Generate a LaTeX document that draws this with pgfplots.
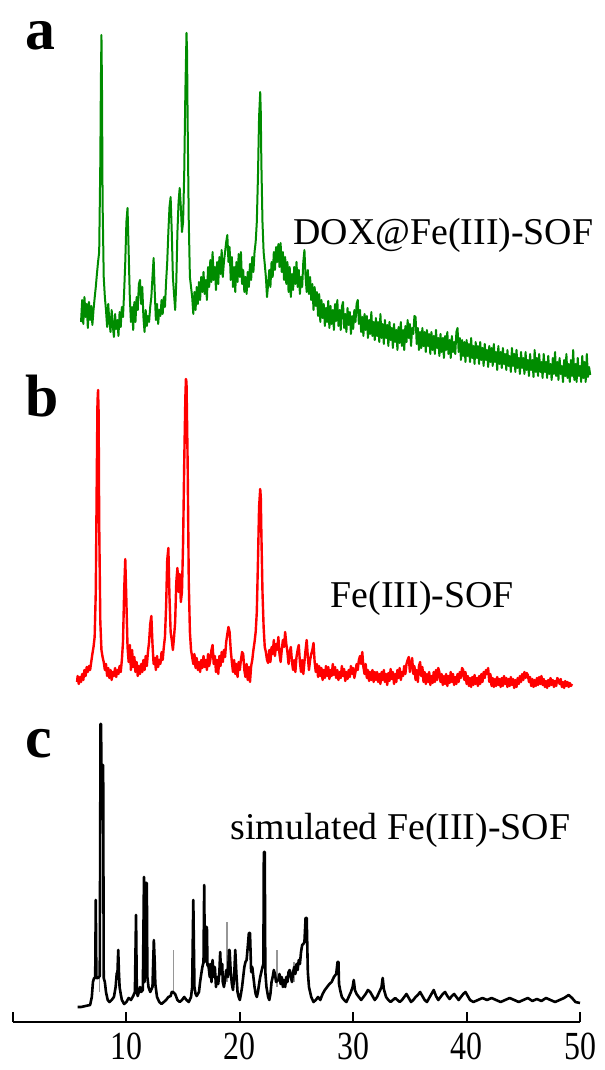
\documentclass[border=0pt]{standalone}
\usepackage{pgfplots}
\pgfplotsset{compat=1.18}
\usepackage{fontspec}
\setmainfont{Liberation Serif}
\definecolor{xrdgreen}{RGB}{0,140,0}
\definecolor{xrdred}{RGB}{255,0,0}
\definecolor{stickgray}{RGB}{150,150,150}
\begin{document}
\begin{tikzpicture}
\begin{axis}[
  at={(0,0)}, anchor=south west,
  scale only axis, width=283.5bp, height=511bp,
  xmin=0, xmax=50, ymin=0, ymax=1022,
  clip=false,
  axis x line=bottom, axis y line=none,
  x axis line style={-, line width=1bp, black},
  xtick={10,20,30,40,50},
  extra x ticks={0}, extra x tick labels={},
  tick align=inside, major tick length=5bp,
  tick style={line width=1bp, black},
  xticklabel={\scalebox{0.8}[1]{\pgfmathprintnumber{\tick}}},
  xticklabel style={font=\fontsize{20}{20}\selectfont, yshift=-2bp},
  /pgf/number format/assume math mode=true,
]
% (a) DOX@Fe(III)-SOF, offset pattern
\addplot[xrdgreen, line width=1bp, line join=round] coordinates {
(6.0,700)(6.1,722)(6.2,698)(6.3,725)(6.4,705)(6.5,718)(6.6,694)(6.7,720)(6.8,702)(6.9,716)
(7.0,697)(7.1,712)(7.2,724)(7.3,735)(7.4,748)(7.5,760)(7.6,770)(7.7,860)(7.75,940)(7.8,987)
(7.85,930)(7.9,820)(8.0,745)(8.1,725)(8.2,712)(8.3,695)(8.4,718)(8.5,700)(8.6,690)(8.7,712)(8.8,696)
(8.9,685)(9.0,708)(9.1,693)(9.2,702)(9.3,686)(9.4,710)(9.5,695)(9.6,715)(9.7,705)(9.8,730)
(9.9,760)(10.0,800)(10.1,814)(10.2,770)(10.3,725)(10.4,700)(10.5,715)(10.6,692)(10.7,720)(10.8,700)
(10.9,725)(11.0,712)(11.1,738)(11.2,742)(11.3,718)(11.4,735)(11.5,705)(11.6,690)(11.7,712)(11.8,696)
(11.9,706)(12.0,700)(12.1,715)(12.2,725)(12.3,745)(12.4,764)(12.5,730)(12.6,702)(12.7,718)(12.8,698)
(12.9,712)(13.0,706)(13.1,722)(13.2,708)(13.3,725)(13.4,715)(13.5,740)(13.6,760)(13.7,790)(13.8,815)
(13.9,825)(14.0,790)(14.1,745)(14.2,728)(14.3,712)(14.4,740)(14.5,790)(14.6,820)(14.7,834)(14.8,815)
(14.9,790)(15.0,800)(15.1,850)(15.2,930)(15.3,989)(15.35,970)(15.4,900)(15.5,800)(15.6,745)(15.7,735)(15.8,725)
(15.9,708)(16.0,730)(16.1,712)(16.2,735)(16.3,718)(16.4,740)(16.5,722)(16.6,745)(16.7,730)(16.8,750)
(16.9,728)(17.0,742)(17.1,722)(17.2,755)(17.3,735)(17.4,762)(17.5,740)(17.6,770)(17.7,742)(17.8,755)
(17.9,732)(18.0,760)(18.1,738)(18.2,765)(18.3,748)(18.4,772)(18.5,745)(18.6,760)(18.7,770)(18.8,780)
(18.9,787)(19.0,760)(19.1,775)(19.2,742)(19.3,765)(19.4,735)(19.5,755)(19.6,730)(19.7,760)(19.8,740)
(19.9,768)(20.0,745)(20.1,770)(20.2,738)(20.3,752)(20.4,730)(20.5,745)(20.6,728)(20.7,750)(20.8,735)
(20.9,758)(21.0,742)(21.1,765)(21.2,750)(21.3,770)(21.4,780)(21.5,800)(21.6,845)(21.7,905)(21.8,930)
(21.85,910)(21.9,860)(22.0,800)(22.1,770)(22.2,758)(22.3,745)(22.4,725)(22.5,738)(22.6,752)(22.7,735)(22.8,760)
(22.9,745)(23.0,770)(23.1,752)(23.2,775)(23.3,760)(23.4,778)(23.5,755)(23.6,779)(23.7,750)(23.8,770)
(23.9,742)(24.0,765)(24.1,738)(24.2,760)(24.3,730)(24.4,755)(24.5,725)(24.6,748)(24.7,732)(24.8,755)
(24.9,738)(25.0,760)(25.1,735)(25.2,752)(25.3,728)(25.4,745)(25.5,735)(25.6,760)(25.7,772)(25.8,745)
(25.9,730)(26.0,752)(26.1,728)(26.2,745)(26.3,722)(26.4,738)(26.5,712)(26.6,735)(26.7,716)(26.8,730)
(26.9,706)(27.0,728)(27.1,700)(27.2,722)(27.3,704)(27.4,718)(27.5,696)(27.6,714)(27.7,700)(27.8,721)
(27.9,694)(28.0,716)(28.1,698)(28.2,712)(28.3,692)(28.4,718)(28.5,701)(28.6,722)(28.7,696)(28.8,712)
(28.9,692)(29.0,715)(29.1,720)(29.2,694)(29.3,708)(29.4,690)(29.5,714)(29.6,697)(29.7,710)(29.8,688)
(29.9,706)(30.0,693)(30.1,712)(30.2,700)(30.3,718)(30.4,722)(30.5,698)(30.6,712)(30.7,690)(30.8,705)
(30.9,686)(31.0,708)(31.1,692)(31.2,706)(31.3,684)(31.4,702)(31.5,688)(31.6,710)(31.7,686)(31.8,700)
(31.9,682)(32.0,704)(32.1,686)(32.2,700)(32.3,680)(32.4,708)(32.5,684)(32.6,698)(32.7,678)(32.8,702)
(32.9,684)(33.0,697)(33.1,676)(33.2,700)(33.3,682)(33.4,694)(33.5,674)(33.6,698)(33.7,680)(33.8,692)
(33.9,672)(34.0,695)(34.1,679)(34.2,700)(34.3,676)(34.4,692)(34.5,672)(34.6,696)(34.7,680)(34.8,702)
(34.9,684)(35.0,698)(35.1,676)(35.2,694)(35.3,688)(35.4,706)(35.5,705)(35.6,678)(35.7,694)(35.8,672)
(35.9,690)(36.0,674)(36.1,694)(36.2,676)(36.3,690)(36.4,670)(36.5,692)(36.6,676)(36.7,688)(36.8,668)
(36.9,690)(37.0,672)(37.1,686)(37.2,668)(37.3,692)(37.4,674)(37.5,684)(37.6,666)(37.7,688)(37.8,670)
(37.9,684)(38.0,664)(38.1,686)(38.2,672)(38.3,690)(38.4,668)(38.5,682)(38.6,664)(38.7,686)(38.8,670)
(38.9,680)(39.0,668)(39.1,690)(39.2,694)(39.3,670)(39.4,684)(39.5,662)(39.6,682)(39.7,666)(39.8,680)
(39.9,660)(40.0,682)(40.1,666)(40.2,678)(40.3,660)(40.4,684)(40.5,664)(40.6,676)(40.7,658)(40.8,680)
(40.9,664)(41.0,676)(41.1,658)(41.2,680)(41.3,662)(41.4,674)(41.5,656)(41.6,678)(41.7,662)(41.8,672)
(41.9,655)(42.0,676)(42.1,660)(42.2,674)(42.3,656)(42.4,678)(42.5,660)(42.6,670)(42.7,652)(42.8,676)
(42.9,658)(43.0,670)(43.1,654)(43.2,674)(43.3,658)(43.4,668)(43.5,652)(43.6,672)(43.7,656)(43.8,666)
(43.9,650)(44.0,674)(44.1,656)(44.2,668)(44.3,650)(44.4,672)(44.5,654)(44.6,664)(44.7,648)(44.8,670)
(44.9,654)(45.0,664)(45.1,648)(45.2,670)(45.3,652)(45.4,662)(45.5,646)(45.6,668)(45.7,652)(45.8,662)
(45.9,645)(46.0,672)(46.1,650)(46.2,664)(46.3,646)(46.4,668)(46.5,650)(46.6,660)(46.7,644)(46.8,668)
(46.9,650)(47.0,660)(47.1,644)(47.2,666)(47.3,648)(47.4,658)(47.5,642)(47.6,664)(47.7,648)(47.8,670)
(47.9,646)(48.0,660)(48.1,642)(48.2,664)(48.3,648)(48.4,656)(48.5,640)(48.6,662)(48.7,646)(48.8,668)
(48.9,644)(49.0,658)(49.1,640)(49.2,662)(49.3,646)(49.4,672)(49.5,642)(49.6,658)(49.7,640)(49.8,664)
(49.9,646)(50.0,656)(50.1,640)(50.2,666)(50.3,644)(50.4,660)(50.5,640)(50.6,668)(50.7,645)(50.8,655)
(50.9,647)
};
% (b) Fe(III)-SOF, offset pattern
\addplot[xrdred, line width=1.2bp, line join=round] coordinates {
(5.65,340)(5.7,346)(5.8,338)(5.9,345)(6.0,340)(6.1,348)(6.2,342)(6.3,352)(6.4,346)(6.5,355)
(6.6,350)(6.7,356)(6.8,352)(6.9,360)(7.0,368)(7.1,375)(7.2,385)(7.3,430)(7.4,560)(7.45,620)(7.5,632)
(7.55,610)(7.6,500)(7.7,400)(7.8,372)(7.9,365)(8.0,360)(8.1,352)(8.2,358)(8.3,346)(8.4,354)
(8.5,344)(8.6,352)(8.7,342)(8.8,350)(8.9,346)(9.0,354)(9.1,345)(9.2,352)(9.3,348)(9.4,356)
(9.5,350)(9.6,362)(9.7,380)(9.8,430)(9.9,463)(10.0,420)(10.1,375)(10.2,360)(10.3,377)(10.4,352)
(10.5,372)(10.6,355)(10.7,365)(10.8,350)(10.9,360)(11.0,346)(11.1,356)(11.2,348)(11.3,358)(11.4,350)
(11.5,362)(11.6,352)(11.7,366)(11.8,356)(11.9,370)(12.0,380)(12.1,398)(12.2,406)(12.3,378)(12.4,358)
(12.5,364)(12.6,352)(12.7,366)(12.8,355)(12.9,362)(13.0,358)(13.1,370)(13.2,362)(13.3,375)(13.4,385)
(13.5,415)(13.6,462)(13.7,474)(13.8,425)(13.9,390)(14.0,382)(14.1,372)(14.2,385)(14.3,400)(14.4,440)
(14.5,454)(14.6,430)(14.7,448)(14.8,420)(14.9,430)(15.0,480)(15.1,560)(15.2,625)(15.25,643)(15.3,640)
(15.4,560)(15.5,440)(15.6,390)(15.7,372)(15.8,365)(15.9,358)(16.0,368)(16.1,354)(16.2,364)(16.3,352)(16.4,360)
(16.5,350)(16.6,362)(16.7,354)(16.8,366)(16.9,355)(17.0,362)(17.1,352)(17.2,368)(17.3,356)(17.4,362)
(17.5,372)(17.6,377)(17.7,358)(17.8,366)(17.9,350)(18.0,362)(18.1,348)(18.2,366)(18.3,356)(18.4,370)
(18.5,360)(18.6,372)(18.7,365)(18.8,380)(18.9,388)(19.0,395)(19.1,390)(19.2,372)(19.3,360)(19.4,350)
(19.5,362)(19.6,348)(19.7,358)(19.8,345)(19.9,360)(20.0,352)(20.1,362)(20.2,370)(20.3,368)(20.4,352)
(20.5,345)(20.6,358)(20.7,342)(20.8,355)(20.9,340)(21.0,356)(21.1,362)(21.2,372)(21.3,380)(21.4,390)
(21.5,410)(21.6,460)(21.7,515)(21.8,533)(21.85,525)(21.9,490)(22.0,430)(22.1,395)(22.2,375)(22.3,370)(22.4,362)
(22.5,359)(22.6,372)(22.7,360)(22.8,375)(22.9,368)(23.0,382)(23.1,366)(23.2,378)(23.3,372)(23.4,385)
(23.5,368)(23.6,360)(23.7,372)(23.8,382)(23.9,375)(24.0,390)(24.1,378)(24.2,370)(24.3,358)(24.4,370)
(24.5,375)(24.6,360)(24.7,352)(24.8,362)(24.9,350)(25.0,365)(25.1,372)(25.2,377)(25.3,360)(25.4,350)
(25.5,362)(25.6,348)(25.7,360)(25.8,372)(25.9,382)(26.0,365)(26.1,352)(26.2,362)(26.3,368)(26.4,372)
(26.5,379)(26.6,360)(26.7,350)(26.8,358)(26.9,345)(27.0,356)(27.1,346)(27.2,354)(27.3,342)(27.4,352)
(27.5,344)(27.6,356)(27.7,346)(27.8,355)(27.9,343)(28.0,352)(28.1,346)(28.2,358)(28.3,347)(28.4,355)
(28.5,344)(28.6,352)(28.7,342)(28.8,350)(28.9,344)(29.0,356)(29.1,346)(29.2,353)(29.3,341)(29.4,350)
(29.5,343)(29.6,352)(29.7,345)(29.8,356)(29.9,348)(30.0,354)(30.1,344)(30.2,350)(30.3,358)(30.4,352)
(30.5,362)(30.6,366)(30.7,358)(30.8,370)(30.9,355)(31.0,348)(31.1,358)(31.2,344)(31.3,352)(31.4,341)
(31.5,350)(31.6,342)(31.7,352)(31.8,340)(31.9,350)(32.0,342)(32.1,350)(32.2,340)(32.3,348)(32.4,338)
(32.5,350)(32.6,342)(32.7,352)(32.8,340)(32.9,348)(33.0,337)(33.1,349)(33.2,341)(33.3,353)(33.4,343)
(33.5,350)(33.6,338)(33.7,348)(33.8,340)(33.9,352)(34.0,344)(34.1,354)(34.2,342)(34.3,350)(34.4,346)
(34.5,356)(34.6,348)(34.7,358)(34.8,362)(34.9,365)(35.0,350)(35.1,358)(35.2,364)(35.3,348)(35.4,356)
(35.5,342)(35.6,352)(35.7,340)(35.8,356)(35.9,360)(36.0,346)(36.1,355)(36.2,340)(36.3,350)(36.4,338)
(36.5,348)(36.6,340)(36.7,350)(36.8,337)(36.9,346)(37.0,339)(37.1,350)(37.2,340)(37.3,352)(37.4,342)
(37.5,354)(37.6,350)(37.7,340)(37.8,348)(37.9,337)(38.0,346)(38.1,338)(38.2,348)(38.3,336)(38.4,346)
(38.5,339)(38.6,350)(38.7,340)(38.8,348)(38.9,337)(39.0,345)(39.1,338)(39.2,348)(39.3,340)(39.4,350)
(39.5,344)(39.6,354)(39.7,352)(39.8,342)(39.9,350)(40.0,338)(40.1,346)(40.2,336)(40.3,344)(40.4,335)
(40.5,345)(40.6,337)(40.7,347)(40.8,338)(40.9,344)(41.0,336)(41.1,346)(41.2,338)(41.3,348)(41.4,340)
(41.5,350)(41.6,344)(41.7,352)(41.8,348)(41.9,354)(42.0,340)(42.1,348)(42.2,336)(42.3,344)(42.4,335)
(42.5,343)(42.6,336)(42.7,345)(42.8,337)(42.9,343)(43.0,335)(43.1,344)(43.2,336)(43.3,346)(43.4,338)
(43.5,344)(43.6,335)(43.7,343)(43.8,336)(43.9,345)(44.0,337)(44.1,343)(44.2,334)(44.3,342)(44.4,335)
(44.5,344)(44.6,338)(44.7,346)(44.8,340)(44.9,348)(45.0,342)(45.1,350)(45.2,344)(45.3,349)(45.4,347)
(45.5,340)(45.6,345)(45.7,336)(45.8,343)(45.9,335)(46.0,342)(46.1,336)(46.2,344)(46.3,337)(46.4,345)
(46.5,338)(46.6,346)(46.7,337)(46.8,343)(46.9,335)(47.0,341)(47.1,334)(47.2,342)(47.3,336)(47.4,344)
(47.5,337)(47.6,342)(47.7,335)(47.8,341)(47.9,336)(48.0,344)(48.1,342)(48.2,338)(48.3,343)(48.4,335)
(48.5,340)(48.6,334)(48.7,341)(48.8,336)(48.9,340)(49.0,335)(49.1,339)(49.2,336)(49.3,338)
};
% (c) simulated pattern: weaker reflections drawn in gray
\addplot[stickgray, line width=0.9bp, unbounded coords=jump] coordinates {
(7.62,30)(7.62,60) (nan,nan)
(14.15,28)(14.15,72) (nan,nan)
(18.86,40)(18.86,100) (nan,nan)
(23.3,35)(23.3,72) (nan,nan)
(24.75,40)(24.75,60)
};
\addplot[black, line width=1.3bp, line join=round] coordinates {
(5.7,15)(6.0,15)(6.4,16)(6.8,17)(6.95,25)(7.05,40)(7.15,44)(7.25,44)(7.3,122)(7.35,44)
(7.5,44)(7.65,46)(7.72,298)(7.76,298)(7.8,257)(7.95,257)(8.0,44)(8.1,40)(8.2,30)(8.35,22)
(8.5,20)(8.7,22)(8.9,25)(9.05,35)(9.15,49)(9.2,45)(9.28,72)(9.34,50)(9.4,35)(9.5,28)
(9.6,22)(9.8,18)(10.0,20)(10.2,24)(10.4,22)(10.6,26)(10.75,30)(10.85,107)(10.92,30)(11.0,26)
(11.1,30)(11.2,35)(11.3,30)(11.45,32)(11.55,145)(11.6,40)(11.7,139)(11.8,139)(11.85,45)(11.95,35)
(12.1,30)(12.3,35)(12.42,82)(12.5,59)(12.55,38)(12.7,25)(12.9,20)(13.1,18)(13.3,20)(13.5,22)
(13.7,25)(13.9,26)(14.0,30)(14.1,30)(14.3,28)(14.5,22)(14.7,20)(14.9,22)(15.1,25)(15.3,22)
(15.5,20)(15.7,25)(15.8,35)(15.9,122)(16.0,35)(16.1,28)(16.2,26)(16.4,30)(16.5,40)(16.6,48)
(16.7,55)(16.8,60)(16.86,137)(16.92,60)(17.0,95)(17.1,95)(17.15,57)(17.25,55)(17.35,45)(17.4,58)
(17.5,40)(17.6,62)(17.7,45)(17.8,55)(17.9,35)(18.0,45)(18.1,38)(18.2,50)(18.27,70)(18.35,48)
(18.45,58)(18.5,40)(18.6,35)(18.7,42)(18.8,52)(18.95,45)(19.05,72)(19.1,72)(19.2,50)(19.3,38)
(19.4,32)(19.5,45)(19.6,72)(19.7,48)(19.8,30)(19.9,25)(20.0,22)(20.1,28)(20.2,35)(20.3,45)
(20.4,55)(20.5,60)(20.6,62)(20.7,75)(20.8,89)(20.9,89)(20.95,70)(21.0,50)(21.1,55)(21.2,45)
(21.3,35)(21.4,28)(21.5,25)(21.6,30)(21.7,38)(21.8,45)(21.9,50)(22.0,55)(22.08,58)(22.12,170)
(22.2,170)(22.25,50)(22.35,35)(22.5,25)(22.6,22)(22.7,28)(22.8,40)(22.9,45)(23.0,52)(23.1,48)
(23.2,40)(23.4,42)(23.5,48)(23.6,38)(23.7,45)(23.8,35)(23.9,42)(24.0,35)(24.1,45)(24.2,40)
(24.3,50)(24.4,52)(24.5,45)(24.6,40)(24.7,50)(24.8,55)(24.9,48)(25.0,58)(25.1,52)(25.2,62)
(25.3,58)(25.4,70)(25.5,77)(25.6,78)(25.7,80)(25.8,104)(25.9,104)(26.0,50)(26.1,35)(26.2,30)
(26.3,25)(26.5,20)(26.7,22)(26.9,25)(27.1,22)(27.3,28)(27.5,32)(27.7,35)(27.9,38)(28.1,40)
(28.3,45)(28.5,48)(28.62,60)(28.7,60)(28.75,38)(28.85,32)(29.0,25)(29.2,22)(29.4,20)(29.6,25)
(29.8,30)(29.95,35)(30.05,42)(30.15,32)(30.3,28)(30.5,25)(30.7,22)(30.9,25)(31.1,28)(31.3,32)
(31.5,30)(31.7,26)(31.9,22)(32.1,25)(32.3,30)(32.5,35)(32.6,44)(32.7,33)(32.9,25)(33.1,22)
(33.3,20)(33.5,22)(33.7,24)(33.9,22)(34.1,20)(34.3,22)(34.5,25)(34.7,28)(34.9,24)(35.1,20)
(35.3,22)(35.5,25)(35.7,27)(35.9,30)(36.1,26)(36.3,22)(36.5,20)(36.7,24)(36.9,28)(37.1,32)
(37.3,26)(37.5,22)(37.7,25)(37.9,28)(38.1,30)(38.3,26)(38.5,23)(38.7,26)(38.9,28)(39.1,25)
(39.3,22)(39.5,25)(39.7,28)(39.9,30)(40.1,26)(40.3,22)(40.6,20)(41.0,22)(41.4,24)(41.8,22)
(42.2,24)(42.6,22)(43.0,20)(43.4,22)(43.8,24)(44.2,22)(44.6,20)(45.0,22)(45.4,24)(45.8,21)
(46.2,23)(46.6,21)(47.0,24)(47.4,22)(47.8,20)(48.2,22)(48.6,24)(49.0,27)(49.3,24)(49.6,20)
(50.0,19)
};
% panel letters and sample names
\node[anchor=base west, inner sep=0pt, font=\fontsize{30}{30}\selectfont\bfseries] at (axis cs:1.06,972) {a};
\node[anchor=base west, inner sep=0pt, font=\fontsize{30}{30}\selectfont\bfseries] at (axis cs:1.06,605) {b};
\node[anchor=base west, inner sep=0pt, font=\fontsize{30}{30}\selectfont\bfseries] at (axis cs:1.06,264) {c};
\node[anchor=base west, inner sep=0pt, font=\fontsize{19}{22}\selectfont] at (axis cs:24.7,777) {DOX@Fe(III)-SOF};
\node[anchor=base west, inner sep=0pt, font=\fontsize{19}{22}\selectfont] at (axis cs:28.0,414) {Fe(III)-SOF};
\node[anchor=base west, inner sep=0pt, font=\fontsize{19}{22}\selectfont] at (axis cs:19.15,182) {simulated Fe(III)-SOF};
\end{axis}
\pgfresetboundingbox
\path (-6.5bp,-24bp) rectangle (296bp,511bp);
\end{tikzpicture}
\end{document}
